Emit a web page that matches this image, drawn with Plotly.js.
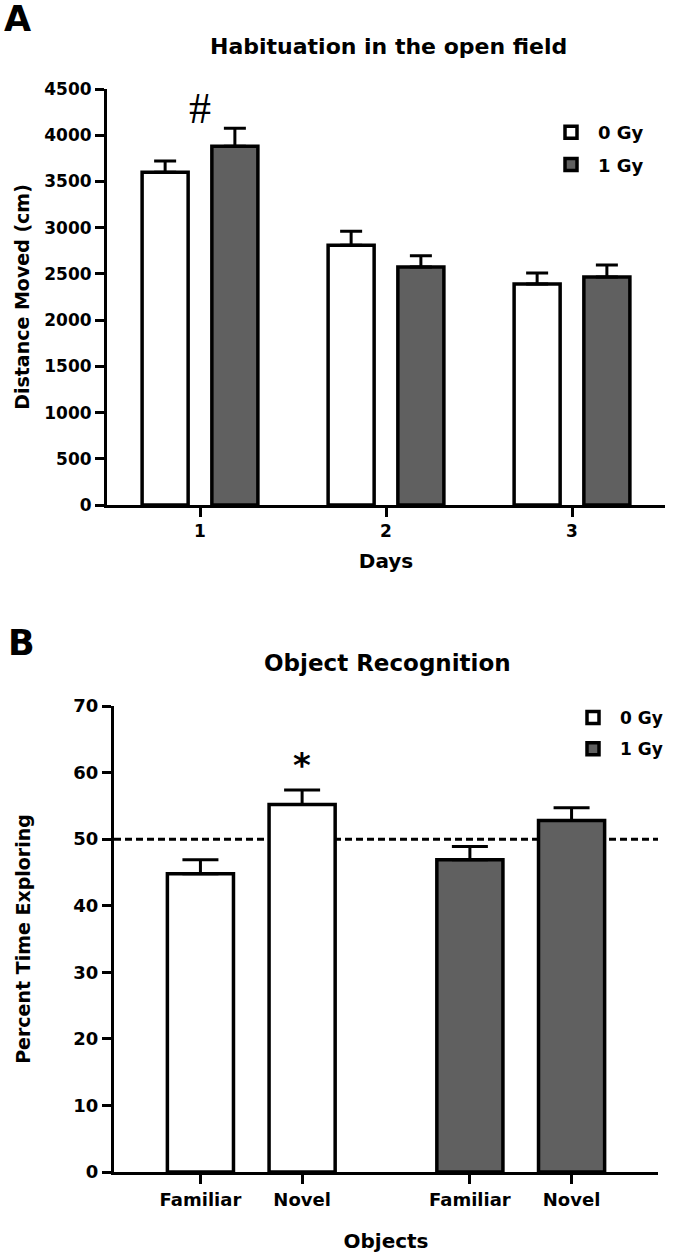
<!DOCTYPE html>
<html>
<head>
<meta charset="utf-8">
<script src="https://cdn.plot.ly/plotly-3.0.1.min.js"></script>
<style>
  html, body { margin: 0; padding: 0; background: #fff; }
  #chart { width: 675px; height: 1256px; }
</style>
</head>
<body>
<div id="chart"></div>
<script>
// Panel A: habituation in the open field
const days = ["1", "2", "3"];
const dist0Gy = [3600, 2810, 2390];
const dist0GyErr = [120, 150, 120];
const dist1Gy = [3880, 2575, 2465];
const dist1GyErr = [195, 120, 130];

// Panel B: object recognition
const objects = ["Familiar", "Novel"];
const pct0Gy = [44.8, 55.2];
const pct0GyErr = [2.1, 2.2];
const pct1Gy = [46.9, 52.8];
const pct1GyErr = [2.0, 1.9];
const chanceLevel = 50;

const FONT = "DejaVu Sans";
const INK = "#000000";
const DARK = "#606060";

// where the two object pairs sit on the numeric x axis of panel B
const slots0 = [1, 2];
const slots1 = [3.65, 4.65];

function upperErr(arr, thick, half) {
  return {
    type: "data", symmetric: false, array: arr, arrayminus: arr.map(() => 0),
    color: INK, thickness: thick, width: half,
  };
}

function axisBase(size) {
  return {
    showline: true, linewidth: 3, linecolor: INK, showgrid: false, zeroline: false,
    ticks: "outside", ticklen: 9, tickwidth: 3, tickcolor: INK,
    tickfont: { family: FONT, size: size, weight: "bold", color: INK },
    fixedrange: true,
  };
}

const traces = [
  {
    type: "bar", x: days, y: dist0Gy, name: "0 Gy", xaxis: "x", yaxis: "y",
    legend: "legend", legendgroup: "a0",
    marker: { color: "#ffffff", line: { color: INK, width: 3.5 } },
    error_y: upperErr(dist0GyErr, 3, 11),
  },
  {
    type: "bar", x: days, y: dist1Gy, name: "1 Gy", xaxis: "x", yaxis: "y",
    legend: "legend", legendgroup: "a1",
    marker: { color: DARK, line: { color: INK, width: 3.5 } },
    error_y: upperErr(dist1GyErr, 3, 11),
  },
  {
    type: "bar", x: slots0, y: pct0Gy, name: "0 Gy", xaxis: "x2", yaxis: "y2",
    legend: "legend2", legendgroup: "b0", width: 0.65, offset: -0.325,
    marker: { color: "#ffffff", line: { color: INK, width: 3.5 } },
    error_y: upperErr(pct0GyErr, 3, 18),
  },
  {
    type: "bar", x: slots1, y: pct1Gy, name: "1 Gy", xaxis: "x2", yaxis: "y2",
    legend: "legend2", legendgroup: "b1", width: 0.65, offset: -0.325,
    marker: { color: DARK, line: { color: INK, width: 3.5 } },
    error_y: upperErr(pct1GyErr, 3, 18),
  },
];

const titleFont = (size) => ({ family: FONT, size: size, weight: "bold", color: INK });

const layout = {
  width: 675, height: 1256,
  margin: { l: 0, r: 0, t: 0, b: 0 },
  paper_bgcolor: "#ffffff", plot_bgcolor: "rgba(0,0,0,0)",
  font: { family: FONT, color: INK },
  barmode: "group", bargap: 0.25, bargroupgap: 0.34,
  showlegend: true,
  xaxis: Object.assign(axisBase(17), {
    domain: [107 / 675, 665 / 675], anchor: "y", type: "category", range: [-0.5, 2.5],
    title: { text: "Days", font: titleFont(20), standoff: 14 },
  }),
  yaxis: Object.assign(axisBase(17), {
    domain: [1 - 505 / 1256, 1 - 89 / 1256], anchor: "x", range: [0, 4500], tick0: 0, dtick: 500,
    title: { text: "Distance Moved (cm)", font: titleFont(19), standoff: 10 },
  }),
  xaxis2: Object.assign(axisBase(18), {
    domain: [114 / 675, 658 / 675], anchor: "y2", range: [0.15, 5.5],
    tickvals: slots0.concat(slots1), ticktext: objects.concat(objects),
    title: { text: "Objects", font: titleFont(20), standoff: 26 },
  }),
  yaxis2: Object.assign(axisBase(18), {
    domain: [1 - 1172 / 1256, 1 - 706 / 1256], anchor: "x2", range: [0, 70], tick0: 0, dtick: 10,
    title: { text: "Percent Time Exploring", font: titleFont(19), standoff: 38 },
  }),
  legend: {
    x: 544 / 675, xanchor: "left", y: 1 - 114 / 1256, yanchor: "top",
    bgcolor: "rgba(0,0,0,0)", borderwidth: 0, tracegroupgap: 6, itemwidth: 44,
    font: { family: FONT, size: 18, weight: "bold", color: INK },
  },
  legend2: {
    x: 566 / 675, xanchor: "left", y: 1 - 700 / 1256, yanchor: "top",
    bgcolor: "rgba(0,0,0,0)", borderwidth: 0, tracegroupgap: 6, itemwidth: 44,
    font: { family: FONT, size: 17, weight: "bold", color: INK },
  },
  shapes: [
    {
      type: "line", layer: "below", xref: "x2 domain", x0: 0, x1: 1, yref: "y2",
      y0: chanceLevel, y1: chanceLevel, line: { color: INK, width: 3, dash: "7px,4px" },
    },
  ],
  annotations: [
    { text: "A", xref: "paper", yref: "paper", x: 17 / 675, y: 1 - 19 / 1256, showarrow: false,
      xanchor: "center", yanchor: "middle", font: titleFont(35) },
    { text: "B", xref: "paper", yref: "paper", x: 22 / 675, y: 1 - 643 / 1256, showarrow: false,
      xanchor: "center", yanchor: "middle", font: titleFont(35) },
    { text: "Habituation in the open field", xref: "paper", yref: "paper", x: 388 / 675, y: 1 - 47 / 1256,
      showarrow: false, xanchor: "center", yanchor: "middle", font: titleFont(22) },
    { text: "Object Recognition", xref: "paper", yref: "paper", x: 387 / 675, y: 1 - 663 / 1256,
      showarrow: false, xanchor: "center", yanchor: "middle", font: titleFont(23) },
    { text: "#", xref: "x", yref: "y", x: 0, y: 4290, showarrow: false,
      xanchor: "center", yanchor: "middle",
      font: { family: "Liberation Serif", size: 44, color: INK } },
    { text: "*", xref: "x2", yref: "y2", x: slots0[1], y: 61.2, showarrow: false,
      xanchor: "center", yanchor: "middle", font: titleFont(34) },
  ],
};

Plotly.newPlot("chart", traces, layout, { staticPlot: true, displayModeBar: false });
</script>
</body>
</html>
